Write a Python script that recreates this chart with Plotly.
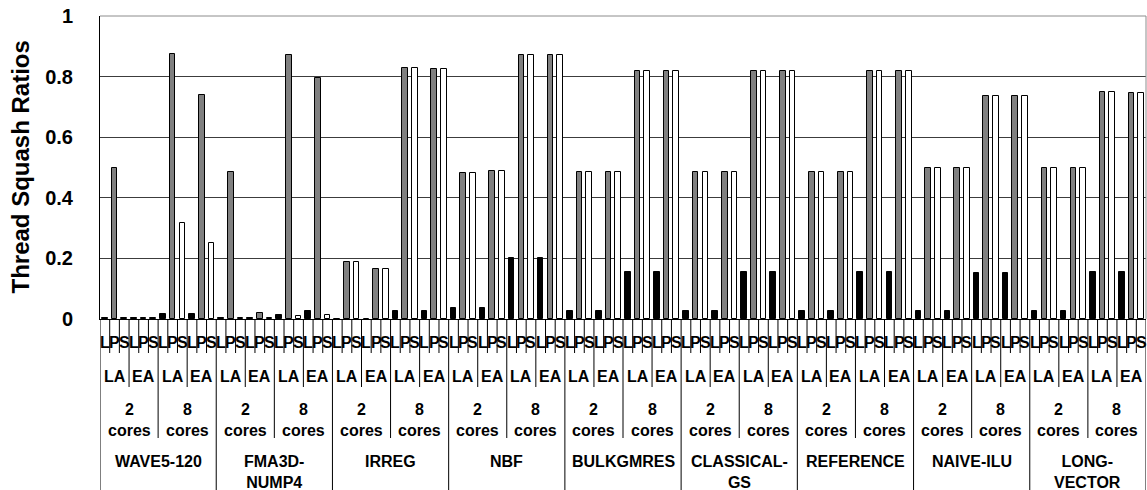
import plotly.graph_objects as go

# Category hierarchy (outermost to innermost)
benchmarks = ["WAVE5-120", "FMA3D-<br>NUMP4", "IRREG", "NBF", "BULKGMRES",
              "CLASSICAL-<br>GS", "REFERENCE", "NAIVE-ILU", "LONG-<br>VECTOR"]
core_labels = ["2<br>cores", "8<br>cores"]
modes = ["LA", "EA"]
kinds = ["L", "P", "S"]

# Squash ratios per benchmark, ordered 2c-LA, 2c-EA, 8c-LA, 8c-EA
l_vals = [
    0.003, 0.003, 0.015, 0.015,   # WAVE5-120
    0.003, 0.003, 0.013, 0.026,   # FMA3D-NUMP4
    0.000, 0.000, 0.027, 0.027,   # IRREG
    0.036, 0.036, 0.200, 0.200,   # NBF
    0.028, 0.028, 0.156, 0.156,   # BULKGMRES
    0.028, 0.028, 0.156, 0.156,   # CLASSICAL-GS
    0.028, 0.028, 0.156, 0.156,   # REFERENCE
    0.028, 0.028, 0.153, 0.153,   # NAIVE-ILU
    0.028, 0.028, 0.156, 0.156,   # LONG-VECTOR
]
p_vals = [
    0.497, 0.003, 0.875, 0.738,
    0.484, 0.020, 0.870, 0.794,
    0.187, 0.164, 0.827, 0.824,
    0.481, 0.487, 0.870, 0.870,
    0.484, 0.484, 0.820, 0.820,
    0.484, 0.484, 0.817, 0.817,
    0.484, 0.484, 0.817, 0.817,
    0.497, 0.500, 0.735, 0.735,
    0.497, 0.497, 0.748, 0.745,
]
s_vals = [
    0.003, 0.003, 0.316, 0.250,
    0.003, 0.003, 0.010, 0.012,
    0.187, 0.164, 0.827, 0.824,
    0.481, 0.487, 0.870, 0.870,
    0.484, 0.484, 0.820, 0.820,
    0.484, 0.484, 0.817, 0.817,
    0.484, 0.484, 0.817, 0.817,
    0.497, 0.500, 0.735, 0.735,
    0.497, 0.497, 0.748, 0.745,
]

W, H = 1147, 490
LEFT, RIGHT, TOP, BOTTOM = 100, 1146, 16, 319
PLOT_H = BOTTOM - TOP
FONT = "Liberation Sans, Arial, sans-serif"

n_groups = len(l_vals)            # 36 (benchmark x cores x mode)
n_slots = n_groups * len(kinds)   # 108


def py(ypix):
    """Pixel row below/inside plot -> paper y coordinate."""
    return (BOTTOM - ypix) / PLOT_H


fig = go.Figure()
series = [("L", l_vals, "#000000"), ("P", p_vals, "#808080"), ("S", s_vals, "#ffffff")]
for offset, (name, vals, color) in enumerate(series):
    xs = [g * 3 + offset for g in range(n_groups)]
    fig.add_trace(go.Bar(
        x=xs, y=vals, name=name, width=0.58,
        marker=dict(color=color, line=dict(color="#000000", width=1)),
        showlegend=False,
    ))

shapes = []
annotations = []

# Separator lines of the multi-level category axis
for b in range(n_slots + 1):
    xb = b - 0.5
    if b % 12 == 0:
        y_end = H
    elif b % 6 == 0:
        y_end = 438
    elif b % 3 == 0:
        y_end = 387
    else:
        y_end = 353
    shapes.append(dict(type="line", xref="x", yref="paper",
                       x0=xb, x1=xb, y0=0, y1=py(y_end),
                       line=dict(color="#000000", width=1)))

# Plot area border (top and right)
shapes.append(dict(type="line", xref="paper", yref="paper", x0=0, x1=1, y0=1, y1=1,
                   line=dict(color="#8c8c8c", width=1)))
shapes.append(dict(type="line", xref="paper", yref="paper", x0=1, x1=1, y0=0, y1=1,
                   line=dict(color="#8c8c8c", width=1)))

lab_font = dict(family=FONT, size=16, color="#000000", weight="bold")

# L / P / S row
for s in range(n_slots):
    annotations.append(dict(x=s, y=py(342), xref="x", yref="paper", text=kinds[s % 3],
                            showarrow=False, font=lab_font, xanchor="center", yanchor="middle"))
# LA / EA row
for g in range(n_groups):
    annotations.append(dict(x=g * 3 + 1, y=py(376), xref="x", yref="paper", text=modes[g % 2],
                            showarrow=False, font=lab_font, xanchor="center", yanchor="middle"))
# cores row
for c in range(n_groups // 2):
    annotations.append(dict(x=c * 6 + 2.5, y=py(399), xref="x", yref="paper",
                            text=core_labels[c % 2], showarrow=False, font=lab_font,
                            xanchor="center", yanchor="top"))
# benchmark row
for i, name in enumerate(benchmarks):
    annotations.append(dict(x=i * 12 + 5.5, y=py(451), xref="x", yref="paper", text=name,
                            showarrow=False, font=lab_font, xanchor="center", yanchor="top"))

# Y axis title
annotations.append(dict(x=(20 - LEFT) / (RIGHT - LEFT), y=0.5, xref="paper", yref="paper",
                        text="Thread Squash Ratios", textangle=-90, showarrow=False,
                        font=dict(family=FONT, size=24, color="#000000", weight="bold"),
                        xanchor="center", yanchor="middle"))

fig.update_layout(
    width=W, height=H, autosize=False,
    margin=dict(l=LEFT, r=W - RIGHT, t=TOP, b=H - BOTTOM, pad=0),
    plot_bgcolor="#ffffff", paper_bgcolor="#ffffff",
    barmode="overlay", bargap=0,
    shapes=shapes, annotations=annotations,
    xaxis=dict(range=[-0.5, n_slots - 0.5], showticklabels=False, showgrid=False,
               zeroline=False, showline=True, linecolor="#000000", linewidth=1,
               ticks="", fixedrange=True),
    yaxis=dict(range=[0, 1], tickvals=[0, 0.2, 0.4, 0.6, 0.8, 1],
               ticktext=["0", "0.2", "0.4", "0.6", "0.8", "1"],
               showgrid=True, gridcolor="#3c3c3c", gridwidth=1, zeroline=False,
               showline=True, linecolor="#000000", linewidth=1,
               ticks="outside", ticklen=22, tickcolor="rgba(0,0,0,0)",
               tickfont=dict(family=FONT, size=20, color="#000000", weight="bold"),
               fixedrange=True),
)

fig.write_html("out.html")
